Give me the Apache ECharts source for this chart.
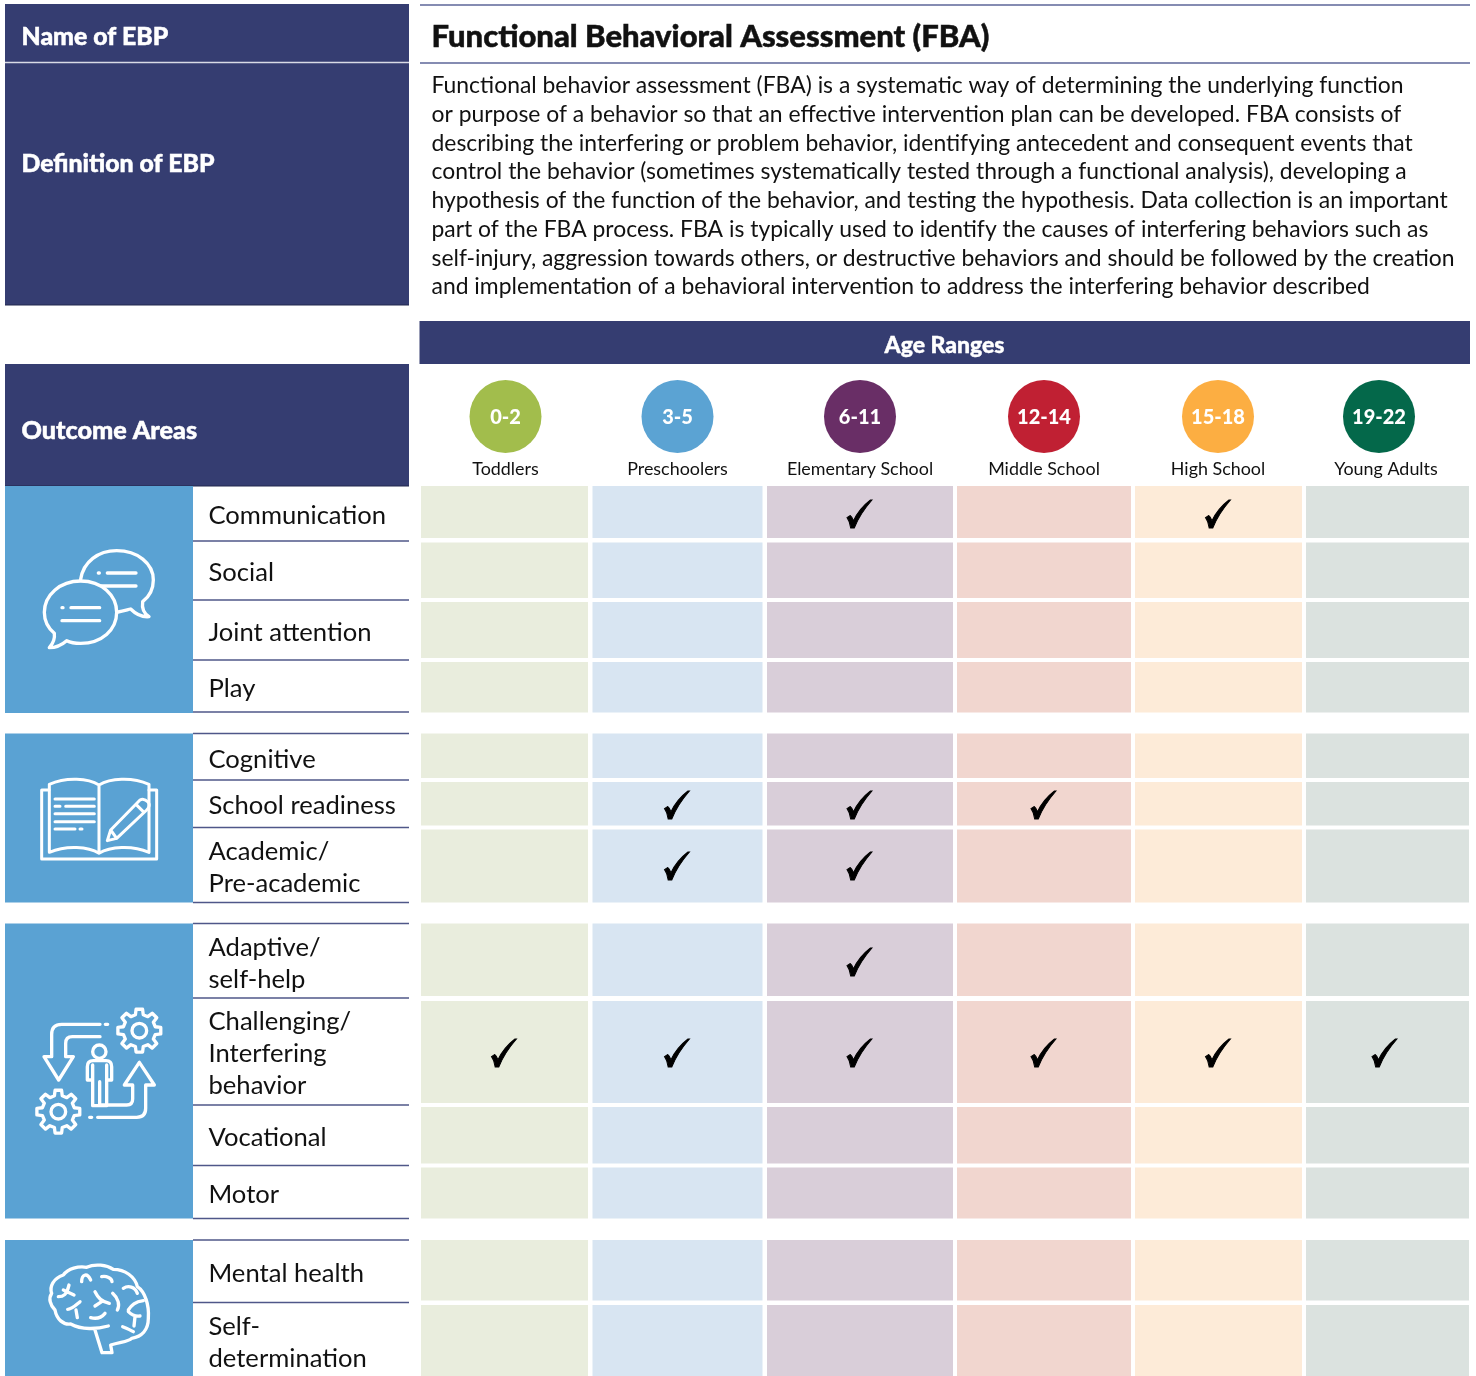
<!DOCTYPE html>
<html><head><meta charset="utf-8">
<style>html,body{margin:0;padding:0;background:#fff}#c{width:1476px;height:1376px}</style>
<script src="https://cdn.jsdelivr.net/npm/echarts@6/dist/echarts.min.js"></script>
</head><body><div id="c"></div>
<script>
// ---------- content ----------
const ebpName = 'Functional Behavioral Assessment (FBA)';
const definitionLines = [
 'Functional behavior assessment (FBA) is a systematic way of determining the underlying function',
 'or purpose of a behavior so that an effective intervention plan can be developed. FBA consists of',
 'describing the interfering or problem behavior, identifying antecedent and consequent events that',
 'control the behavior (sometimes systematically tested through a functional analysis), developing a',
 'hypothesis of the function of the behavior, and testing the hypothesis. Data collection is an important',
 'part of the FBA process. FBA is typically used to identify the causes of interfering behaviors such as',
 'self-injury, aggression towards others, or destructive behaviors and should be followed by the creation',
 'and implementation of a behavioral intervention to address the interfering behavior described'
];
const ageRanges = ['0-2','3-5','6-11','12-14','15-18','19-22'];
const ageNames = ['Toddlers','Preschoolers','Elementary School','Middle School','High School','Young Adults'];
const outcomes = ['Communication','Social','Joint attention','Play','Cognitive','School readiness','Academic/\nPre-academic',
 'Adaptive/\nself-help','Challenging/\nInterfering\nbehavior','Vocational','Motor','Mental health','Self-\ndetermination'];
// checks[row] = indices of age columns carrying a check mark
const checks = [[2,4],[],[],[],[],[1,2,3],[1,2],[2],[0,1,2,3,4,5],[],[],[],[]];

// ---------- layout & style ----------
const colEdges = [[421,588],[592.5,762.5],[767,953],[957,1131],[1135,1302],[1306,1469]];
const rowEdges = [[486,538],[542.5,598],[602,658],[662,712.5],[733.5,778],[782,825.5],[829.5,902.5],
 [923.5,996],[1001,1103],[1107,1163.5],[1167.5,1218.5],[1240,1300.5],[1305,1376]];
const ruleYs = [541,600,660,712,733.5,780,827.5,902.5,923.5,998,1105,1165.5,1218.5,1240,1302.5];
const labelYs = [516,573,633,689,760,806,868,964,1054,1138,1195,1274,1343];
const checkYs = [514,0,0,0,0,805,866,962,1053,0,0,0,0];
const circleXs = [505.5,677.5,860,1044,1218,1379];
const nameXs = [505.5,677.5,860,1044,1218,1386];
const colFill = ['#e9eddd','#d8e5f2','#d9ced9','#f1d6cf','#fdebd8','#dbe2df'];
const circleFill = ['#a2bd4c','#5ba3d3','#692e66','#c02033','#fcae42','#04684a'];
const blueBlocks = [[486,713],[733.5,902.5],[923.5,1218.5],[1240,1376]];
const NAVY = '#353d71', BLUE = '#5aa2d3', RULE = '#4f5789';
const FF = 'Lato, sans-serif';
const CHECK = 'path://M24,0 C17,8 11,17 7,27 L3.5,27 C3,22 1.5,19 0,17 L3,15 C4.5,16 5.5,18 6.2,20 C10,12 16,5 22.5,0 Z';

function gear(cx,cy){
  const n=8,R=65,r=49; let d='';
  for(let i=0;i<n;i++){
    const a=i*2*Math.PI/n, w=Math.PI/n;
    const pts=[[r,a-w*0.62],[R,a-w*0.38],[R,a+w*0.38],[r,a+w*0.62]];
    pts.forEach((p,j)=>{const x=cx+p[0]*Math.cos(p[1]),y=cy+p[0]*Math.sin(p[1]);d+=((i===0&&j===0)?'M':'L')+x.toFixed(1)+','+y.toFixed(1)+' ';});
  }
  d+='Z M'+(cx+22)+','+cy+' A22,22 0 1 1 '+(cx-22)+','+cy+' A22,22 0 1 1 '+(cx+22)+','+cy+' Z';
  return d;
}
// Icons are drawn in coordinates 3x the page scale, anchored at a page offset.
const icons = [
 {x:0,y:480,w:10,paths:[
  'M242,298 C250,245 295,212 350,212 C412,212 460,250 460,300 C460,330 445,352 428,365 C425,385 432,400 447,410 C425,412 405,400 392,387 C380,390 368,394 354,396',
  'M242,303 C305,303 350,345 350,397 C350,450 305,490 242,490 C225,490 212,488 200,482 C185,495 168,503 148,503 C160,490 165,475 163,460 C145,445 133,422 133,397 C133,345 180,303 242,303 Z',
  'M295,279 L298,279 M322,279 L408,279 M305,318 L408,318 M186,383 L189,383 M213,383 L299,383 M186,422 L299,422'
 ]},
 {x:0,y:725,w:9,paths:[
  'M147,195 L125,195 L125,402 L470,402 L470,195 L447,195',
  'M297,180 C265,160 200,155 148,178 L148,382 C200,360 265,365 297,385 C330,365 395,360 447,382 L447,178 C395,155 330,160 297,180 L297,385',
  'M165,222 L283,222 M165,244 L180,244 M197,244 L283,244 M165,266 L283,266 M165,290 L283,290 M165,312 L225,312 M240,312 L246,312',
  'M322,347 L332,315 L420,225 Q432,218 445,232 Q452,243 440,255 L350,340 Z M332,315 L350,340 M408,238 L432,262'
 ]},
 {x:0,y:915,w:10,paths:[
  gear(418,347), gear(175,590),
  'M300,328 L185,328 Q155,328 155,358 L155,425 L132,425 L176,495 L220,425 L197,425 L197,385 Q197,365 217,365 L300,365',
  'M293,607 L410,607 Q437,607 437,580 L437,510 L463,510 L418,442 L373,510 L398,510 L398,552 Q398,570 380,570 L300,570',
  'M318,410 A20,20 0 1 1 278,410 A20,20 0 1 1 318,410 Z',
  'M262,495 L262,455 Q262,437 280,437 L318,437 Q335,437 335,455 L335,495 L320,495 L320,572 L278,572 L278,495 Z M278,450 L278,495 M320,450 L320,495 M299,500 L299,570',
  'M316,328 L323,328 M269,607 L275,607'
 ]},
 {x:0,y:1230,w:10,paths:[
  'M325,288 C290,298 245,300 212,282 C190,285 170,268 165,240 C150,225 145,205 155,190 C148,170 160,145 190,135 C205,115 235,108 260,112 C285,100 320,105 340,118 C375,118 405,140 412,170 C435,185 448,225 445,265 C445,300 425,320 395,325 C385,335 365,335 332,345 L336,368 L306,368 L285,300',
  'M368,290 C380,295 392,300 400,305',
  'M245,155 C245,135 260,125 272,150 M305,140 C320,137 335,145 336,155',
  'M370,175 C385,165 405,170 412,190 M385,240 C395,225 405,215 430,212',
  'M175,200 C190,200 200,195 207,165 M190,180 L222,195 M203,238 C215,238 228,225 240,215 M228,240 L232,263',
  'M285,185 C295,205 305,215 328,220 M305,215 L285,228 M338,190 C355,205 360,225 352,240 M272,263 C290,268 305,262 315,250',
  'M385,245 C395,255 405,260 420,258 M405,260 L402,288'
 ]}
];

// ---------- chart ----------
const cellData = [];
rowEdges.forEach((_,r)=>colEdges.forEach((_,c)=>cellData.push([c,r])));
const checkData = [];
checks.forEach((cols,r)=>cols.forEach(c=>{
  checkData.push([(colEdges[c][0]+colEdges[c][1])/2-(c===5?2.5:0)-0.5,checkYs[r]]);
}));
const rect=(x,y,w,h,fill)=>({type:'rect',shape:{x,y,width:w,height:h},style:{fill}});
const line=(x1,x2,y,stroke,lw)=>({type:'line',shape:{x1,y1:y,x2,y2:y},style:{stroke,lineWidth:lw}});
const txt=(x,y,text,font,fill,align,sw)=>({type:'text',style:Object.assign({x,y,text,font,fill,align:align||'left',verticalAlign:'middle'},sw?{stroke:fill,lineWidth:sw}:{})});

const graphicEls = [
  rect(5,4,404,301,NAVY), line(5,409,62.5,'#d9dbe6',1.5), line(5,409,305,'#23284f',1.2),
  rect(5,364,404,122,NAVY), line(5,409,486,'#23284f',1.2),
  rect(419.5,321,1050.5,43,NAVY),
  line(420,1470,5,'#5d6699',1.5), line(420,1470,63,'#5d6699',1.5),
  txt(21.5,37,'Name of EBP','900 24.8px '+FF,'#fff','left',0.5),
  txt(21.5,164,'Definition of EBP','900 24.8px '+FF,'#fff','left',0.5),
  txt(21.5,431,'Outcome Areas','900 25.2px '+FF,'#fff','left',0.5),
  txt(944.5,346,'Age Ranges','900 23px '+FF,'#fff','center',0.4),
  txt(431.5,37,ebpName,'900 31px '+FF,'#111','left',0.5),
  ...definitionLines.map((s,i)=>txt(431.5,86+i*28.7,s,'400 22.9px '+FF,'#111')),
  ...blueBlocks.map(b=>rect(5,b[0],188,b[1]-b[0],BLUE))
];

const chart = echarts.init(document.getElementById('c'),null,{renderer:'canvas'});
chart.setOption({
  animation:false,
  backgroundColor:'#fff',
  grid:{left:0,right:0,top:0,bottom:0,containLabel:false},
  xAxis:{type:'value',min:0,max:1476,show:false},
  yAxis:{type:'value',min:0,max:1376,inverse:true,show:false},
  graphic:{elements:graphicEls.map(e=>Object.assign({z:1},e))},
  series:[
   {type:'custom',name:'cells',z:2,silent:true,data:cellData,encode:{x:0,y:1},
    renderItem(p,api){
      const c=api.value(0),r=api.value(1);
      const a=api.coord([colEdges[c][0],rowEdges[r][0]]),b=api.coord([colEdges[c][1],rowEdges[r][1]]);
      return {type:'rect',shape:{x:a[0],y:a[1],width:b[0]-a[0],height:b[1]-a[1]},style:{fill:colFill[c]}};
    }},
   {type:'custom',name:'rules',z:3,silent:true,data:ruleYs.map(y=>[193,y]),encode:{x:0,y:1},
    renderItem(p,api){
      const a=api.coord([193,api.value(1)]),b=api.coord([409,api.value(1)]);
      return {type:'line',shape:{x1:a[0],y1:a[1],x2:b[0],y2:b[1]},style:{stroke:RULE,lineWidth:1.4}};
    }},
   {type:'custom',name:'outcomes',z:4,silent:true,data:outcomes.map((o,i)=>[208.5,labelYs[i]]),encode:{x:0,y:1},
    renderItem(p,api){
      const a=api.coord([api.value(0),api.value(1)]);
      return {type:'text',style:{x:a[0],y:a[1],text:outcomes[p.dataIndex],font:'400 25.6px '+FF,fill:'#111',lineHeight:32,align:'left',verticalAlign:'middle'}};
    }},
   {type:'custom',name:'ageNames',z:4,silent:true,data:ageNames.map((o,i)=>[nameXs[i],469.5]),encode:{x:0,y:1},
    renderItem(p,api){
      const a=api.coord([api.value(0),api.value(1)]);
      return {type:'text',style:{x:a[0],y:a[1],text:ageNames[p.dataIndex],font:'400 17.9px '+FF,fill:'#111',align:'center',verticalAlign:'middle'}};
    }},
   {type:'scatter',name:'ages',z:4,silent:true,symbol:'circle',symbolSize:[72,73],
    data:ageRanges.map((a,i)=>({name:a,value:[circleXs[i],416.5],itemStyle:{color:circleFill[i],opacity:1}})),
    label:{show:true,position:'inside',offset:[0,1],formatter:'{b}',color:'#fff',fontFamily:'Lato',fontWeight:900,fontSize:20}},
   {type:'scatter',name:'checks',z:5,silent:true,symbol:CHECK,symbolSize:[25,28],
    itemStyle:{color:'#000',opacity:1,borderColor:'#000',borderWidth:1},data:checkData},
   {type:'custom',name:'icons',z:5,silent:true,data:icons.map(i=>[i.x,i.y]),encode:{x:0,y:1},
    renderItem(p,api){
      const ic=icons[p.dataIndex],a=api.coord([ic.x,ic.y]);
      return {type:'group',x:a[0],y:a[1],scaleX:1/3,scaleY:1/3,children:ic.paths.map(d=>({
        type:'path',shape:{pathData:d},style:{fill:'none',stroke:'#fff',lineWidth:ic.w,lineCap:'round',lineJoin:'round'}}))};
    }}
  ]
});
</script></body></html>
